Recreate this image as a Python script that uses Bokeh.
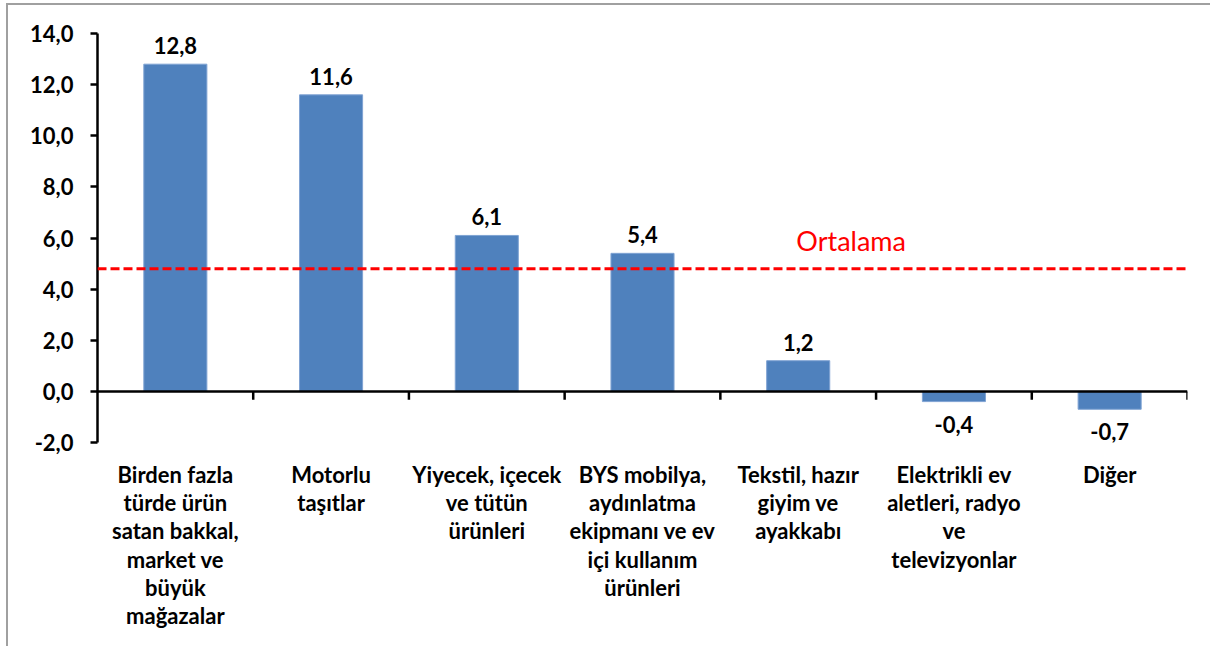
from bokeh.plotting import figure
from bokeh.models import Range1d, FixedTicker, Span, Label, ColumnDataSource
from bokeh.core.properties import value
from bokeh.embed import file_html
from bokeh.resources import INLINE

categories = [
    "Birden fazla\ntürde ürün\nsatan bakkal,\nmarket ve\nbüyük\nmağazalar",
    "Motorlu\ntaşıtlar",
    "Yiyecek, içecek\nve tütün\nürünleri",
    "BYS mobilya,\naydınlatma\nekipmanı ve ev\niçi kullanım\nürünleri",
    "Tekstil, hazır\ngiyim ve\nayakkabı",
    "Elektrikli ev\naletleri, radyo\nve\ntelevizyonlar",
    "Diğer",
]
values = [12.8, 11.6, 6.1, 5.4, 1.2, -0.4, -0.7]
average = 4.8
average_label = "Ortalama"
y_ticks = [-2, 0, 2, 4, 6, 8, 10, 12, 14]

FONT = "Lato"
n = len(categories)
centers = [i + 0.5 for i in range(n)]
boundaries = list(range(1, n + 1))

def fmt(v):
    return f"{v:.1f}".replace(".", ",")

p = figure(width=1204, height=643, output_backend="svg", toolbar_location=None,
           x_range=Range1d(0, n), y_range=Range1d(-2, 14),
           min_border_left=89, min_border_right=25, min_border_top=28, min_border_bottom=206)
p.styles = {"border-left": "2px solid #a0a0a0", "border-top": "2px solid #a0a0a0",
            "margin-left": "6px", "margin-top": "3px"}
p.outline_line_color = None
p.xgrid.visible = False
p.ygrid.visible = False
p.background_fill_color = "white"

# y axis
ya = p.yaxis[0]
ya.ticker = FixedTicker(ticks=y_ticks)
ya.major_label_overrides = {t: fmt(t) for t in y_ticks}
ya.axis_line_width = 2.5
ya.axis_line_color = "black"
ya.major_tick_line_width = 2.5
ya.major_tick_out = 7
ya.major_tick_in = 0
ya.minor_tick_line_color = None
ya.major_label_text_font = FONT
ya.major_label_text_font_style = "bold"
ya.major_label_text_font_size = "22px"
ya.major_label_text_color = "black"
ya.major_label_standoff = 17

# x axis (labels only)
xa = p.xaxis[0]
xa.ticker = FixedTicker(ticks=centers)
xa.major_label_overrides = {c: lab for c, lab in zip(centers, categories)}
xa.axis_line_color = None
xa.major_tick_line_color = None
xa.minor_tick_line_color = None
xa.major_label_text_font = FONT
xa.major_label_text_font_style = "bold"
xa.major_label_text_font_size = "22px"
xa.major_label_text_color = "black"
xa.major_label_text_line_height = 1.05
xa.major_label_standoff = 12
xa.major_label_orientation = "horizontal"

src = ColumnDataSource(dict(x=centers, top=values))
p.vbar(x="x", top="top", bottom=0, width=0.405, source=src,
       fill_color="#4F81BD", line_color="#7fa3d3", line_width=1)

# zero line with category separators
p.add_layout(Span(location=0, dimension="width", line_color="black", line_width=2.5))
p.segment(x0=boundaries, y0=[0] * n, x1=boundaries, y1=[-0.33] * n,
          line_color="black", line_width=2.5)

# value labels
pos = ColumnDataSource(dict(x=[c for c, v in zip(centers, values) if v >= 0],
                            y=[v for v in values if v >= 0],
                            lab=[fmt(v) for v in values if v >= 0]))
neg = ColumnDataSource(dict(x=[c for c, v in zip(centers, values) if v < 0],
                            y=[v for v in values if v < 0],
                            lab=[fmt(v) for v in values if v < 0]))
p.text(x="x", y="y", text="lab", source=pos, text_align="center", text_baseline="bottom",
       y_offset=-10, text_font=value(FONT), text_font_style="bold", text_font_size="22px",
       text_color="black")
p.text(x="x", y="y", text="lab", source=neg, text_align="center", text_baseline="top",
       y_offset=14, text_font=value(FONT), text_font_style="bold", text_font_size="22px",
       text_color="black")

# average line
p.add_layout(Span(location=average, dimension="width", line_color="#FF0000",
                  line_width=3, line_dash="9 4"))
p.add_layout(Label(x=4.84, y=average, y_offset=28, text=average_label,
                   text_align="center", text_baseline="middle", text_font=FONT,
                   text_font_size="27px", text_color="#FF0000"))

open("out.html", "w").write(file_html(p, INLINE))
